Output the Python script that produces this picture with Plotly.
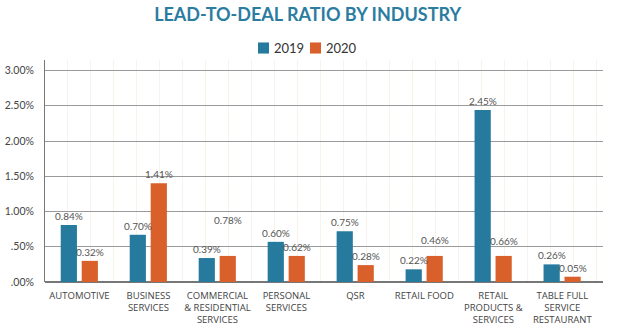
import plotly.graph_objects as go

categories = ["AUTOMOTIVE", "BUSINESS<br>SERVICES", "COMMERCIAL<br>& RESIDENTIAL<br>SERVICES",
              "PERSONAL<br>SERVICES", "QSR", "RETAIL FOOD", "RETAIL<br>PRODUCTS &<br>SERVICES",
              "TABLE FULL<br>SERVICE<br>RESTAURANT"]
series_names = ["2019", "2020"]
# bar heights as drawn in the reference (percent)
values_2019 = [0.81, 0.67, 0.34, 0.57, 0.72, 0.18, 2.44, 0.25]
values_2020 = [0.30, 1.40, 0.37, 0.37, 0.24, 0.37, 0.37, 0.075]
# printed data labels
labels_2019 = ["0.84%", "0.70%", "0.39%", "0.60%", "0.75%", "0.22%", "2.45%", "0.26%"]
labels_2020 = ["0.32%", "1.41%", "0.78%", "0.62%", "0.28%", "0.46%", "0.66%", "0.05%"]
y_tickvals = [0, 0.5, 1.0, 1.5, 2.0, 2.5, 3.0]
y_ticktext = [".00%", ".50%", "1.00%", "1.50%", "2.00%", "2.50%", "3.00%"]

# style
COLORS = ["#267a9e", "#d9602a"]
BAR_W = 0.235
OFFSETS = [-0.272, 0.032]
EXTRA_LIFT = [{}, {2: 27, 5: 7, 6: 6}]  # label lift tweaks (px) as in reference
LABEL_FONT = dict(family="Lato", size=10, color="#555555")
# manual legend layout (plot-area paper coords)
LEG_Y = 1.054
LEG_SQ_X = [0.3817, 0.4749]
LEG_SQ_W = 0.0197
LEG_SQ_H = 0.025
LEG_TXT_X = [0.4065, 0.4998]

x = list(range(len(categories)))
values = [values_2019, values_2020]
labels = [labels_2019, labels_2020]

fig = go.Figure()
annotations = []
shapes = []
for s, name in enumerate(series_names):
    fig.add_trace(go.Bar(x=x, y=values[s], name=name, marker_color=COLORS[s],
                         width=BAR_W, offset=OFFSETS[s], marker_line_width=0,
                         showlegend=False))
    for i in x:
        annotations.append(dict(x=i + OFFSETS[s] + BAR_W / 2, y=values[s][i], text=labels[s][i],
                                xref="x", yref="y", showarrow=False, yanchor="bottom",
                                yshift=1 + EXTRA_LIFT[s].get(i, 0), font=LABEL_FONT))
    shapes.append(dict(type="rect", xref="paper", yref="paper",
                       x0=LEG_SQ_X[s], x1=LEG_SQ_X[s] + LEG_SQ_W,
                       y0=LEG_Y - LEG_SQ_H, y1=LEG_Y + LEG_SQ_H,
                       fillcolor=COLORS[s], line_width=0))
    annotations.append(dict(x=LEG_TXT_X[s], y=LEG_Y, xref="paper", yref="paper", text=name,
                            showarrow=False, xanchor="left", yanchor="middle",
                            font=dict(family="Lato", size=13, color="#333333")))

fig.update_layout(
    width=624, height=329,
    margin=dict(l=45, r=21, t=60, b=47),
    paper_bgcolor="white", plot_bgcolor="white",
    title=dict(text="<b>LEAD-TO-DEAL RATIO BY INDUSTRY</b>", x=0.493, xanchor="center",
               y=0.955, yanchor="middle",
               font=dict(family="Lato", size=18, color="#2b7ca1")),
    barmode="overlay",
    annotations=annotations,
    shapes=shapes,
    showlegend=False,
)
fig.update_xaxes(
    range=[-0.5, 7.59], automargin=False,
    tickmode="array", tickvals=x, ticktext=categories,
    showgrid=False, ticks="", zeroline=False,
    ticklabelstandoff=6,
    tickfont=dict(family="Open Sans", size=9.5, color="#444444"),
    minor=dict(tick0=-0.5, dtick=1 / 3, showgrid=True, gridcolor="#f7f2ea", gridwidth=1, ticks=""),
    showline=False,
)
fig.update_yaxes(
    range=[0, 3.15], automargin=False,
    tickmode="array", tickvals=y_tickvals, ticktext=y_ticktext,
    showgrid=True, gridcolor="#9a9a9a", gridwidth=1,
    zeroline=True, zerolinecolor="#777777", zerolinewidth=1.5,
    showline=True, linecolor="#777777", linewidth=1,
    ticks="", ticklabelstandoff=8,
    tickfont=dict(family="Lato", size=10.5, color="#444444"),
)

fig.write_html("out.html")
